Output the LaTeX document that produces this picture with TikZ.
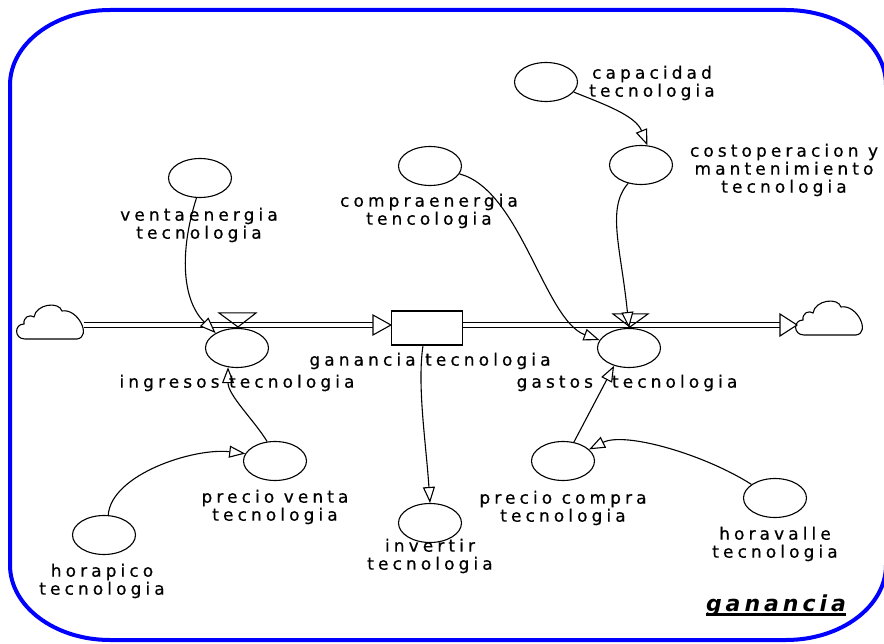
\documentclass[tikz,border=0pt]{standalone}
\usepackage{fontspec}
\setmainfont{DejaVu Sans}[LetterSpace=24, FakeBold=0.6]
\newfontfamily\titlefont{DejaVu Sans}[LetterSpace=18]
\usetikzlibrary{arrows.meta,shapes.geometric,calc}

\begin{document}
\begin{tikzpicture}[x=1pt,y=-1pt,
  aux/.style={ellipse, draw, line width=1.1pt, minimum width=63pt, minimum height=39pt, inner sep=0pt},
  stock/.style={rectangle, draw, line width=1.1pt, minimum width=71pt, minimum height=34pt, inner sep=0pt},
  lbl/.style={align=center, font=\fontsize{17}{18}\selectfont, inner sep=0pt},
  info/.style={line width=1.1pt, -{Triangle[length=16pt,width=12pt,fill=white,line width=1.1pt]}},
  pipe/.style={draw, double=white, double distance=3.2pt, line width=1pt},
  flowtip/.style={line width=1.1pt, fill=white},
  valve/.style={line width=1.1pt},
  frame/.style={draw=blue, line width=4pt},
  cloudpic/.pic={
    \draw[line width=1.1pt, fill=white] (-26,17) .. controls (-37,17) and (-37,2) .. (-27,2)
      .. controls (-28,-5) and (-21,-8) .. (-17,-5)
      .. controls (-15,-18) and (8,-21) .. (11,-11)
      .. controls (27,-14) and (41,15) .. (26,17) -- cycle;
  }]
\useasboundingbox (0,0) rectangle (884,644);
\clip (0,0) rectangle (884,644);

% outer frame with elliptical corners
\draw[frame] (110,10) -- (786,10) .. controls (841.2,10) and (886,43.6) .. (886,85)
  -- (886,565) .. controls (886,606.4) and (841.2,640) .. (786,640)
  -- (110,640) .. controls (54.8,640) and (10,606.4) .. (10,565)
  -- (10,85) .. controls (10,43.6) and (54.8,10) .. (110,10) -- cycle;

% sources and sinks
\pic at (51,322) {cloudpic};
\pic at (830,318) {cloudpic};
\coordinate (srcL) at (84,325);
\coordinate (sinkR) at (797,325);

% stock
\node[stock] (box) at (427,328) {};

% auxiliaries
\node[aux] (cap)  at (546,82)  {};
\node[aux] (cost) at (641,165) {};
\node[aux] (vent) at (200,178) {};
\node[aux] (comp) at (430,166) {};
\node[aux] (ing)  at (237,348) {};
\node[aux] (gas)  at (629,348) {};
\node[aux] (pv)   at (275,461) {};
\node[aux] (hp)   at (104,535) {};
\node[aux] (inv)  at (430,523) {};
\node[aux] (pc)   at (563,461) {};
\node[aux] (hv)   at (775,498) {};

% flow pipes
\path[pipe] (srcL) -- ([xshift=-18pt,yshift=3pt]box.west);
\draw[flowtip] ([yshift=3pt]box.west) -- ++(-18,-10) -- ++(0,20) -- cycle;
\path[pipe] ([yshift=3pt]box.east) -- ($(sinkR)+(-17,0)$);
\draw[flowtip] (sinkR) -- ++(-17,-11) -- ++(0,22) -- cycle;

% valves
\draw[valve] ($(ing.north)+(-18,-15)$) -- ++(37,0) -- ($(ing.north)+(1,-1)$) -- cycle;
\draw[valve] ($(gas.north)+(-16,-14)$) -- ++(35,0) -- ($(gas.north)+(1,-1)$) -- cycle;

% information links
\draw[info] (cap.-20) .. controls +(30,12) and +(-12,-30) .. (cost.72);
\draw[info] (cost.-125) .. controls +(-22,25) and +(-8,-80) .. (gas.north);
\draw[info] (comp.-15) .. controls +(61,16) and +(-55,-20) .. (gas.165);
\draw[info] (vent.-100) .. controls +(-17,53) and +(-34,-33) .. (ing.145);
\draw[info] (pv.112) .. controls +(-12,-20) and +(0,28) .. (ing.-115);
\draw[info] (hp.78) .. controls +(3,-41) and +(-51,-6) .. (pv.166);
\draw[info] ([xshift=-4pt]box.south) .. controls +(-6,40) and +(-4,-60) .. (inv.north);
\draw[info] (pc.60) -- (gas.-130);
\draw[info] (hv.150) .. controls +(-47,-30) and +(36,-18) .. (pc.24);

% labels
\node[lbl] (capL)  at (652,83)  {capacidad\\tecnologia};
\node[lbl] (costL) at (784,170) {costoperacion y\\mantenimiento\\tecnologia};
\node[lbl] (ventL) at (199,225) {ventaenergia\\tecnologia};
\node[lbl] (compL) at (429,211) {compraenergia\\tencologia};
\node[lbl] (ingL)  at (237,383) {ingresos tecnologia};
\node[lbl] (boxL)  at (430,361) {ganancia tecnologia};
\node[lbl] (gasL)  at (627,383) {gastos\ \ tecnologia};
\node[lbl] (pvL)   at (275,507) {precio venta\\tecnologia};
\node[lbl] (hpL)   at (102,581) {horapico\\tecnologia};
\node[lbl] (invL)  at (430,556) {invertir\\tecnologia};
\node[lbl] (pcL)   at (563,508) {precio compra\\tecnologia};
\node[lbl] (hvL)   at (775,544) {horavalle\\tecnologia};

% view title
\node[inner sep=0pt, anchor=base, font=\titlefont\fontsize{22}{24}\selectfont\bfseries\itshape] (title) at (776,611) {ganancia};
\draw[line width=2.5pt] ([yshift=-3.5pt]title.base west) -- ([yshift=-3.5pt]title.base east);
\end{tikzpicture}
\end{document}
